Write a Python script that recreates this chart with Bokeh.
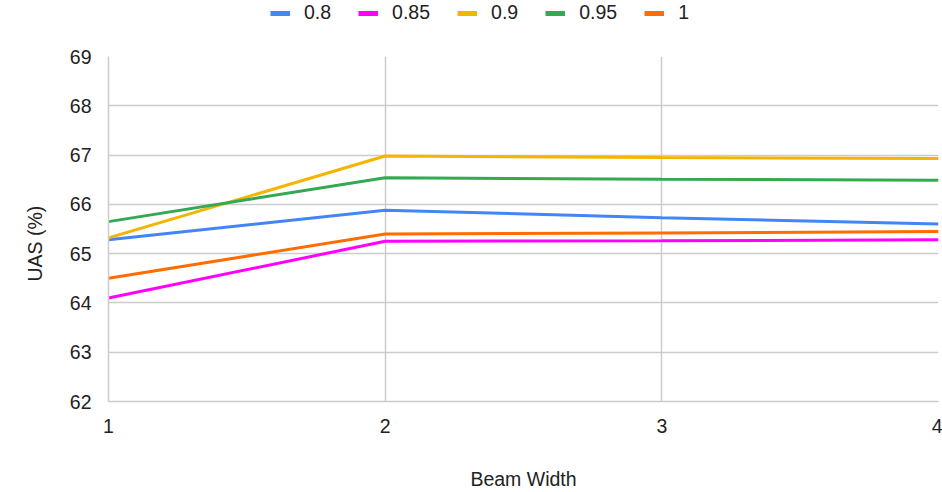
from bokeh.plotting import figure
from bokeh.layouts import column
from bokeh.models import Range1d, FixedTicker, Legend, LegendItem, Title
from bokeh.embed import file_html
from bokeh.resources import INLINE

# Beam width on the x axis, one UAS series per threshold
beam_width = [1, 2, 3, 4]
series_names = ["0.8", "0.85", "0.9", "0.95", "1"]
uas_080 = [65.28, 65.88, 65.73, 65.60]
uas_085 = [64.10, 65.25, 65.26, 65.28]
uas_090 = [65.32, 66.98, 66.95, 66.93]
uas_095 = [65.65, 66.54, 66.51, 66.49]
uas_100 = [64.50, 65.40, 65.42, 65.45]
colors = ["#4285f4", "#ff00ff", "#f4b400", "#34a853", "#ff6d01"]
y_ticks = [62, 63, 64, 65, 66, 67, 68, 69]

FONT = "Liberation Sans"
FSIZE = "19.5px"
TEXT = "#222222"
GRID = "#cccccc"

all_series = [uas_080, uas_085, uas_090, uas_095, uas_100]

# --- main chart ---
p = figure(width=942, height=452, output_backend="svg", toolbar_location=None,
           x_range=Range1d(1, 4), y_range=Range1d(62, 69),
           min_border_left=108, min_border_right=4,
           min_border_top=16, min_border_bottom=86)
p.outline_line_color = None
p.background_fill_color = "white"
p.border_fill_color = "white"

p.xaxis.ticker = FixedTicker(ticks=beam_width)
p.yaxis.ticker = FixedTicker(ticks=y_ticks)
for ax in (p.xaxis, p.yaxis):
    ax.major_tick_line_color = None
    ax.minor_tick_line_color = None
    ax.axis_line_color = GRID
    ax.axis_line_width = 1.5
    ax.major_label_text_font = FONT
    ax.major_label_text_font_size = FSIZE
    ax.major_label_text_color = TEXT
    ax.axis_label_text_font = FONT
    ax.axis_label_text_font_size = FSIZE
    ax.axis_label_text_color = TEXT
    ax.axis_label_text_font_style = "normal"
p.xaxis.axis_label = "Beam Width"
p.xaxis.major_label_standoff = 11
p.yaxis.major_label_standoff = 11
p.xaxis.axis_label_standoff = 32

# y-axis title as a side title so it can be nudged along the axis
ytitle = Title(text="UAS (%)", align="left", offset=120, standoff=42,
               text_font=FONT, text_font_size=FSIZE, text_font_style="normal",
               text_color=TEXT)
p.add_layout(ytitle, "left")

p.xgrid.ticker = FixedTicker(ticks=beam_width)
p.ygrid.ticker = FixedTicker(ticks=y_ticks)
for g in (p.xgrid, p.ygrid):
    g.grid_line_color = GRID
    g.grid_line_width = 1.5

for vals, c in zip(all_series, colors):
    p.line(beam_width, vals, line_color=c, line_width=3)

# --- legend strip across the top ---
# the series are drawn here too, outside the visible range, only to feed the legend
lg = figure(width=942, height=40, output_backend="svg", toolbar_location=None,
            x_range=Range1d(0, 1), y_range=Range1d(0, 1),
            x_axis_type=None, y_axis_type=None,
            min_border_left=0, min_border_right=0,
            min_border_top=0, min_border_bottom=0)
lg.outline_line_color = None
lg.grid.visible = False
items = []
for name, vals, c in zip(series_names, all_series, colors):
    swatch = lg.line(beam_width, vals, line_color=c, line_width=5)
    items.append(LegendItem(label=name, renderers=[swatch]))

# column() lines this strip's frame up with the chart frame (left edge at 108)
legend = Legend(items=items, orientation="horizontal", location=(162, 16),
                glyph_width=20, glyph_height=22, label_standoff=14, spacing=27,
                label_height=22,
                label_text_font=FONT, label_text_font_size=FSIZE,
                label_text_color=TEXT, border_line_color=None,
                background_fill_alpha=0, padding=0, margin=0)
lg.add_layout(legend, "center")

layout = column(lg, p, spacing=0)
open("out.html", "w").write(file_html(layout, INLINE))
